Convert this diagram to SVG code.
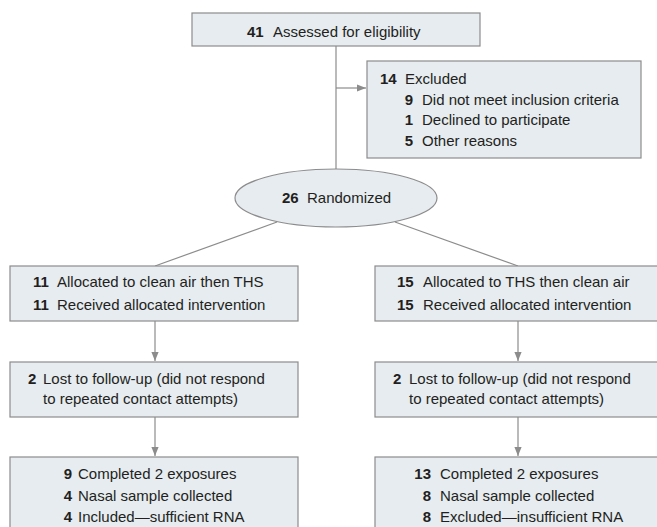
<svg xmlns="http://www.w3.org/2000/svg" width="657" height="527" viewBox="0 0 657 527">
<defs>
<style>
.box{fill:#e6ecf0;stroke:#8c8c8c;stroke-width:1.2}
text{font-family:"Liberation Sans",Arial,sans-serif;font-size:15px;fill:#231f20}
.b{font-weight:bold}
.ln{stroke:#8c8c8c;stroke-width:1.2;fill:none}
</style>
<marker id="ah" viewBox="0 0 10 10" refX="10" refY="5" markerWidth="9" markerHeight="9" markerUnits="userSpaceOnUse" orient="auto">
<path d="M0,1 L10,5 L0,9 Z" fill="#8c8c8c"/>
</marker>
</defs>
<rect width="657" height="527" fill="#ffffff"/>
<g id="connectors">
<line class="ln" x1="336" y1="46" x2="336" y2="169"/>
<line class="ln" x1="336" y1="88" x2="366" y2="88" marker-end="url(#ah)"/>
<line class="ln" x1="277" y1="222" x2="155" y2="266"/>
<line class="ln" x1="395" y1="222" x2="518" y2="266"/>
<line class="ln" x1="155" y1="321" x2="155" y2="361" marker-end="url(#ah)"/>
<line class="ln" x1="518" y1="321" x2="518" y2="361" marker-end="url(#ah)"/>
<line class="ln" x1="155" y1="417" x2="155" y2="456" marker-end="url(#ah)"/>
<line class="ln" x1="518" y1="417" x2="518" y2="456" marker-end="url(#ah)"/>
</g>
<g id="assessed">
<rect class="box" x="192" y="13" width="288" height="33"/>
<text y="37"><tspan class="b" x="247">41</tspan><tspan x="273">Assessed for eligibility</tspan></text>
</g>
<g id="excluded">
<rect class="box" x="367" y="61" width="274" height="97"/>
<text y="84"><tspan class="b" x="380">14</tspan><tspan x="405">Excluded</tspan></text>
<text y="104.5"><tspan class="b" x="413" text-anchor="end">9</tspan><tspan x="422">Did not meet inclusion criteria</tspan></text>
<text y="125"><tspan class="b" x="413" text-anchor="end">1</tspan><tspan x="422">Declined to participate</tspan></text>
<text y="145.5"><tspan class="b" x="413" text-anchor="end">5</tspan><tspan x="422">Other reasons</tspan></text>
</g>
<g id="randomized">
<ellipse class="box" cx="336" cy="198" rx="101" ry="29"/>
<text y="203"><tspan class="b" x="282">26</tspan><tspan x="307">Randomized</tspan></text>
</g>
<g id="alloc-left">
<rect class="box" x="10" y="266" width="288" height="55"/>
<text y="287"><tspan class="b" x="33">11</tspan><tspan x="57">Allocated to clean air then THS</tspan></text>
<text y="310"><tspan class="b" x="33">11</tspan><tspan x="57">Received allocated intervention</tspan></text>
</g>
<g id="alloc-right">
<rect class="box" x="375" y="266" width="290" height="55"/>
<text y="287"><tspan class="b" x="397">15</tspan><tspan x="423">Allocated to THS then clean air</tspan></text>
<text y="310"><tspan class="b" x="397">15</tspan><tspan x="423">Received allocated intervention</tspan></text>
</g>
<g id="lost-left">
<rect class="box" x="10" y="362" width="288" height="55"/>
<text y="384"><tspan class="b" x="28">2</tspan><tspan x="43">Lost to follow-up (did not respond</tspan></text>
<text y="404"><tspan x="43">to repeated contact attempts)</tspan></text>
</g>
<g id="lost-right">
<rect class="box" x="375" y="362" width="290" height="55"/>
<text y="384"><tspan class="b" x="393">2</tspan><tspan x="409">Lost to follow-up (did not respond</tspan></text>
<text y="404"><tspan x="409">to repeated contact attempts)</tspan></text>
</g>
<g id="completed-left">
<rect class="box" x="10" y="457" width="288" height="80"/>
<text y="479"><tspan class="b" x="72" text-anchor="end">9</tspan><tspan x="78">Completed 2 exposures</tspan></text>
<text y="501"><tspan class="b" x="72" text-anchor="end">4</tspan><tspan x="78">Nasal sample collected</tspan></text>
<text y="522"><tspan class="b" x="72" text-anchor="end">4</tspan><tspan x="78">Included—sufficient RNA</tspan></text>
</g>
<g id="completed-right">
<rect class="box" x="375" y="457" width="290" height="80"/>
<text y="479"><tspan class="b" x="431" text-anchor="end">13</tspan><tspan x="440">Completed 2 exposures</tspan></text>
<text y="501"><tspan class="b" x="431" text-anchor="end">8</tspan><tspan x="440">Nasal sample collected</tspan></text>
<text y="522"><tspan class="b" x="431" text-anchor="end">8</tspan><tspan x="440">Excluded—insufficient RNA</tspan></text>
</g>
</svg>
